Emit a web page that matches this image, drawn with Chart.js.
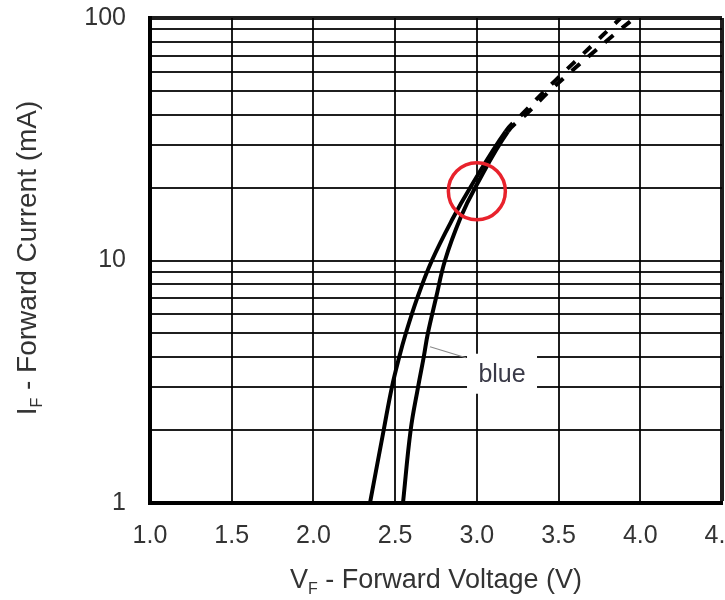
<!DOCTYPE html>
<html>
<head>
<meta charset="utf-8">
<script src="https://cdn.jsdelivr.net/npm/chart.js@4.4.1/dist/chart.umd.min.js"></script>
<style>
html,body{margin:0;padding:0;background:#fff;overflow:hidden}
#wrap{width:725px;height:600px;position:relative}
</style>
</head>
<body>
<div id="wrap"><canvas id="c"></canvas></div>
<script>
// ---- data ----
const xTickValues = [1.0, 1.5, 2.0, 2.5, 3.0, 3.5, 4.0, 4.5];
const yTickValues = [1, 2, 3, 4, 5, 6, 7, 8, 9, 10, 20, 30, 40, 50, 60, 70, 80, 90, 100];
const yTickLabels = [1, 10, 100];

const curve1Current = [1, 2, 3, 4, 5, 7, 10, 15, 20, 34, 40, 50, 60, 70, 80, 90, 100];
const curve1Voltage = [2.346, 2.43, 2.48, 2.525, 2.565, 2.635, 2.725, 2.855, 2.96, 3.175, 3.275, 3.415, 3.535, 3.64, 3.73, 3.81, 3.88];
const curve2Current = [1, 2, 3, 4, 5, 7, 10, 15, 20, 34, 40, 50, 60, 70, 80, 90, 100];
const curve2Voltage = [2.548, 2.595, 2.64, 2.675, 2.70, 2.75, 2.805, 2.90, 2.99, 3.19, 3.30, 3.445, 3.575, 3.69, 3.79, 3.88, 3.965];
const dashedFromCurrent = 34;   // curves are dashed above this current

const seriesLabel = 'blue';
const labelAt = { v: 3.154, i: 3.38 };
const markerAt = { v: 3.0, i: 19.3 };

const xTitle = ['V', 'F', ' - Forward Voltage (V)'];
const yTitle = ['I', 'F', ' - Forward Current (mA)'];

// ---- helpers ----
const FONT = '"Liberation Sans", Arial, Helvetica, sans-serif';
function toPoints(vs, is) { return vs.map((v, k) => ({ x: v, y: is[k] })); }

function drawSubTitle(ctx, parts, size, subSize) {
  ctx.font = size + 'px ' + FONT;
  const w0 = ctx.measureText(parts[0]).width;
  const w2 = ctx.measureText(parts[2]).width;
  ctx.font = subSize + 'px ' + FONT;
  const w1 = ctx.measureText(parts[1]).width;
  const total = w0 + w1 + w2;
  let x = -total / 2;
  ctx.textAlign = 'left';
  ctx.textBaseline = 'alphabetic';
  ctx.font = size + 'px ' + FONT;
  ctx.fillText(parts[0], x, 0); x += w0;
  ctx.font = subSize + 'px ' + FONT;
  ctx.fillText(parts[1], x, size * 0.22); x += w1;
  ctx.font = size + 'px ' + FONT;
  ctx.fillText(parts[2], x, 0);
}

const overlay = {
  id: 'overlay',
  beforeDatasetsDraw(chart) {
    const { ctx, scales: { x, y } } = chart;
    const cx = x.getPixelForValue(labelAt.v), cy = y.getPixelForValue(labelAt.i);
    ctx.save();
    ctx.fillStyle = '#fff';
    ctx.fillRect(cx - 35, cy - 21, 70, 40);
    ctx.strokeStyle = '#8a8a8a';
    ctx.lineWidth = 1.2;
    ctx.beginPath();
    ctx.moveTo(cx - 72, cy - 28);
    ctx.lineTo(cx - 36, cy - 17);
    ctx.stroke();
    ctx.fillStyle = '#3a3a48';
    ctx.font = '25px ' + FONT;
    ctx.textAlign = 'center';
    ctx.textBaseline = 'middle';
    ctx.fillText(seriesLabel, cx, cy);
    ctx.restore();
  },
  afterDatasetsDraw(chart) {
    const { ctx, scales: { x, y } } = chart;
    const cx = x.getPixelForValue(markerAt.v), cy = y.getPixelForValue(markerAt.i);
    ctx.save();
    ctx.strokeStyle = '#e8222c';
    ctx.lineWidth = 3.5;
    ctx.beginPath();
    ctx.arc(cx, cy, 28.5, 0, Math.PI * 2);
    ctx.stroke();
    ctx.restore();
  },
  afterDraw(chart) {
    const { ctx, chartArea } = chart;
    ctx.save();
    ctx.fillStyle = '#333';
    ctx.translate((chartArea.left + chartArea.right) / 2, 588);
    drawSubTitle(ctx, xTitle, 27, 16);
    ctx.restore();
    ctx.save();
    ctx.fillStyle = '#333';
    ctx.translate(36, 258);
    ctx.rotate(-Math.PI / 2);
    drawSubTitle(ctx, yTitle, 28, 16);
    ctx.restore();
  }
};

function makeDataset(vs, is) {
  const dashIdx = is.indexOf(dashedFromCurrent);
  return {
    data: toPoints(vs, is),
    borderColor: '#000',
    borderWidth: 4,
    pointRadius: 0,
    fill: false,
    tension: 0.4,
    segment: {
      borderDash: c => (c.p0DataIndex >= dashIdx ? [11, 11] : undefined)
    }
  };
}

const gridColor = 'rgba(0,0,0,0.88)';

new Chart(document.getElementById('c'), {
  type: 'line',
  data: {
    datasets: [makeDataset(curve1Voltage, curve1Current), makeDataset(curve2Voltage, curve2Current)]
  },
  options: {
    responsive: true,
    maintainAspectRatio: false,
    devicePixelRatio: 1,
    animation: false,
    layout: { padding: { left: 0, right: 3, top: 18, bottom: 0 } },
    plugins: { legend: { display: false }, tooltip: { enabled: false } },
    scales: {
      x: {
        type: 'linear',
        min: xTickValues[0],
        max: xTickValues[xTickValues.length - 1],
        afterBuildTicks: s => { s.ticks = xTickValues.map(v => ({ value: v })); },
        afterFit: s => { s.height = 97; s.paddingLeft = 0; s.paddingRight = 0; },
        ticks: {
          autoSkip: false,
          maxRotation: 0,
          padding: 18,
          color: '#333',
          font: { family: FONT, size: 25 },
          callback: v => Number(v).toFixed(1)
        },
        grid: {
          color: gridColor,
          lineWidth: c => (c.tick && c.tick.value === xTickValues[xTickValues.length - 1] ? 4 : 2),
          drawTicks: false
        },
        border: { color: '#000', width: 4 }
      },
      y: {
        type: 'logarithmic',
        min: yTickValues[0],
        max: yTickValues[yTickValues.length - 1],
        afterBuildTicks: s => { s.ticks = yTickValues.map(v => ({ value: v, major: yTickLabels.includes(v) })); },
        afterFit: s => { s.width = 150; s.paddingTop = 0; s.paddingBottom = 0; },
        ticks: {
          autoSkip: false,
          padding: 24,
          color: '#333',
          font: { family: FONT, size: 25 },
          callback: v => (yTickLabels.includes(v) ? String(v) : '')
        },
        grid: {
          color: gridColor,
          lineWidth: c => (c.tick && c.tick.value === yTickValues[yTickValues.length - 1] ? 4 : 2),
          drawTicks: false
        },
        border: { color: '#000', width: 4 }
      }
    }
  },
  plugins: [overlay]
});
</script>
</body>
</html>
